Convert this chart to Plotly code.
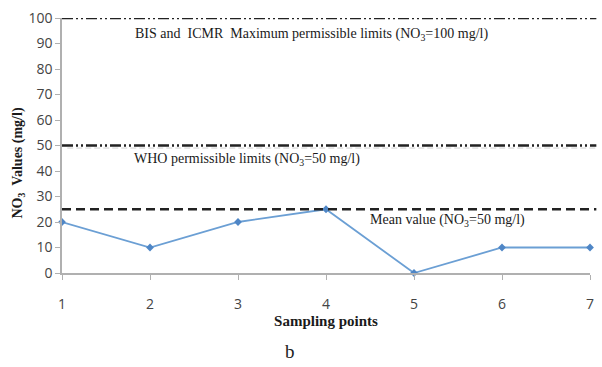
import plotly.graph_objects as go

sampling_points = [1, 2, 3, 4, 5, 6, 7]
no3_values = [20, 10, 20, 25, 0, 10, 10]
bis_icmr_limit = 100
who_limit = 50
mean_value = 25
y_ticks = [0, 10, 20, 30, 40, 50, 60, 70, 80, 90, 100]

serif = "Liberation Serif, Times New Roman, serif"
sans = "Open Sans, Noto Sans, sans-serif"
ddot = "11px,3px,2px,3px,2px,3px"

fig = go.Figure()
fig.add_trace(go.Scatter(
    x=sampling_points, y=no3_values, mode="lines+markers",
    line=dict(color="#6b9fd4", width=1.8),
    marker=dict(symbol="diamond", size=6, color="#4f86c6"),
    showlegend=False, cliponaxis=False,
))

# reference lines
for yv, dash in [(bis_icmr_limit, ddot), (who_limit, ddot), (mean_value, "9px,5px")]:
    fig.add_shape(type="line", xref="paper", yref="y", x0=0, x1=1.012, y0=yv, y1=yv,
                  line=dict(color="#222222", width=2.6, dash=dash))
# faint dotted line under the WHO limit
fig.add_shape(type="line", xref="paper", yref="y", x0=0.01, x1=1.012, y0=who_limit - 1.0, y1=who_limit - 1.0,
              line=dict(color="#d0d0d0", width=1, dash="6px,3px"))

txt = dict(family=serif, size=14, color="#1a1a1a")
fig.add_annotation(x=0.472, y=93.4, xref="paper", yref="y", showarrow=False, xanchor="center",
                   text="BIS and  ICMR  Maximum permissible limits (NO<sub>3</sub>=100 mg/l)", font=txt)
fig.add_annotation(x=0.35, y=44.6, xref="paper", yref="y", showarrow=False, xanchor="center",
                   text="WHO permissible limits (NO<sub>3</sub>=50 mg/l)", font=txt)
fig.add_annotation(x=0.73, y=20.5, xref="paper", yref="y", showarrow=False, xanchor="center",
                   text="Mean value (NO<sub>3</sub>=50 mg/l)", font=txt)
fig.add_annotation(x=0.432, y=-0.306, xref="paper", yref="paper", showarrow=False,
                   xanchor="center", yanchor="middle", text="b",
                   font=dict(family=serif, size=19, color="#222222"))
fig.add_annotation(x=-0.083, y=0.43, xref="paper", yref="paper", showarrow=False,
                   textangle=-90, xanchor="center", yanchor="middle",
                   text="<b>NO<sub>3</sub>  Values (mg/l)</b>",
                   font=dict(family=serif, size=14, color="#1a1a1a"))

fig.update_layout(
    width=602, height=367, margin=dict(l=62, r=8, t=15, b=94),
    paper_bgcolor="white", plot_bgcolor="white",
    xaxis=dict(
        range=[1, 7], tickvals=sampling_points, showgrid=False, zeroline=False,
        showline=True, linecolor="#b0b0b0", linewidth=1.5,
        ticks="outside", ticklen=5, tickcolor="#b0b0b0",
        ticklabelstandoff=12,
        tickfont=dict(family=sans, size=14, color="#444444"),
        title=dict(text="<b>Sampling points</b>", standoff=0,
                   font=dict(family=serif, size=15, color="#1a1a1a")),
    ),
    yaxis=dict(
        range=[0, 100], tickvals=y_ticks, showgrid=False, zeroline=False,
        showline=True, linecolor="#b0b0b0", linewidth=1.5,
        ticks="outside", ticklen=5, tickcolor="#b0b0b0",
        tickfont=dict(family=sans, size=14, color="#444444"),
    ),
)

fig.write_html("out.html")
